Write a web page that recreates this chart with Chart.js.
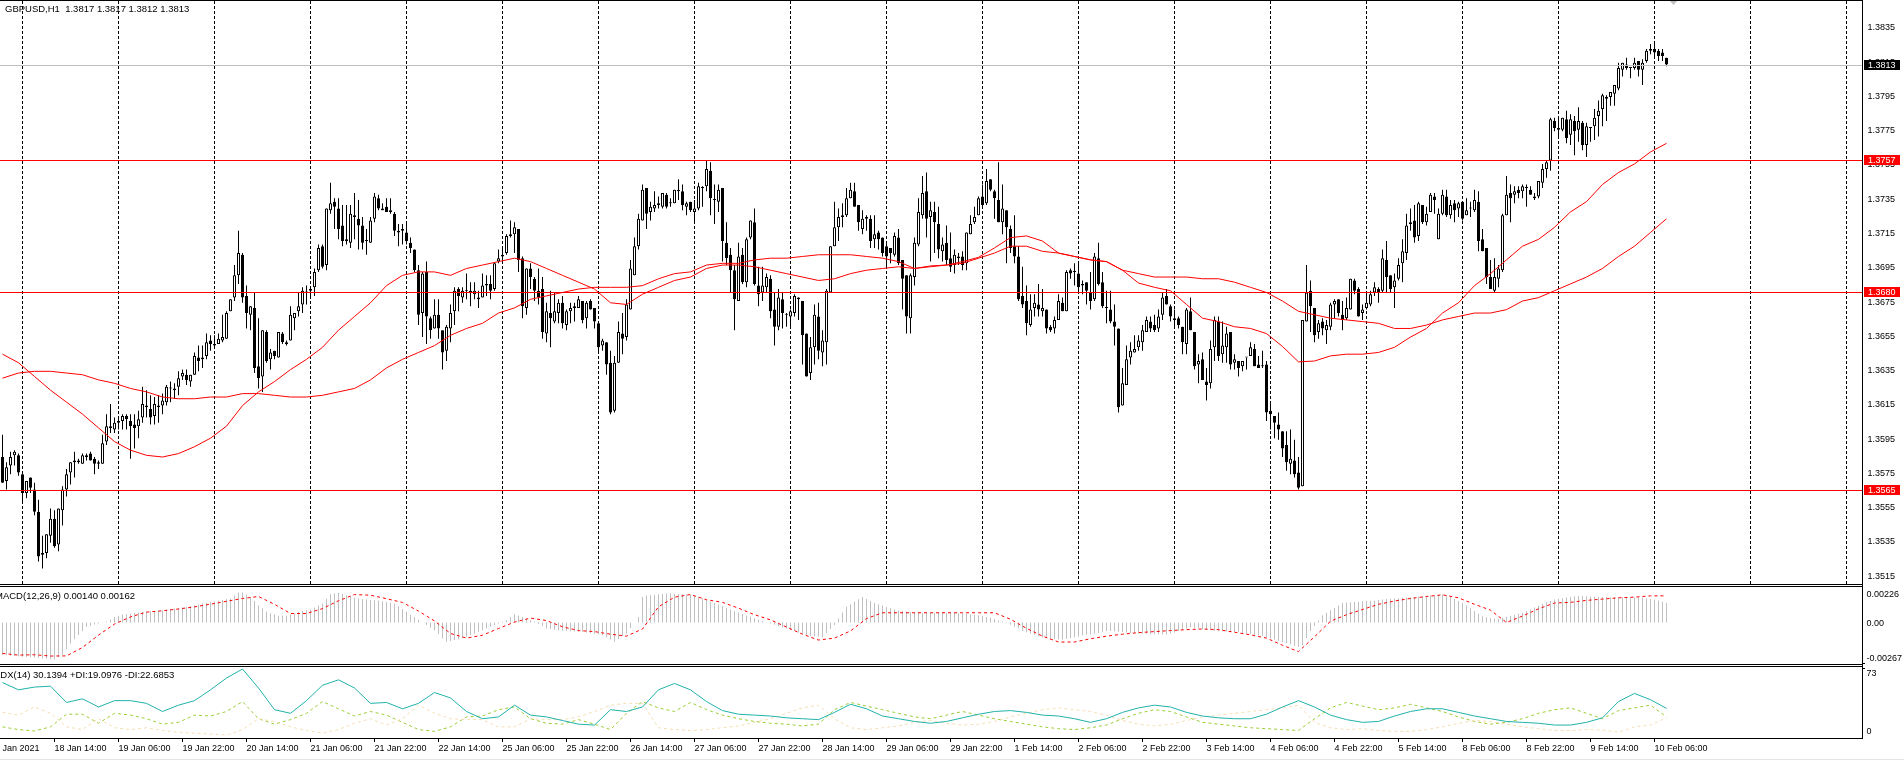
<!DOCTYPE html>
<html><head><meta charset="utf-8">
<script src="https://cdn.jsdelivr.net/npm/chart.js@4"></script>
<style>
html,body{margin:0;padding:0;background:#fff;width:1904px;height:760px;overflow:hidden}
canvas{position:absolute;left:0}
.ln{position:absolute;background:#000}
.lg{position:absolute;font:9.5px "Liberation Sans";color:#000;white-space:pre;line-height:10px}
</style></head><body>
<canvas id="main" width="1904" height="583" style="top:1px"></canvas>
<canvas id="macd" width="1904" height="77" style="top:587px"></canvas>
<canvas id="adxc" width="1904" height="93" style="top:667px"></canvas>
<div class="ln" style="left:0;top:0;width:1862px;height:1px"></div>
<div class="ln" style="left:0;top:584px;width:1862px;height:1px"></div>
<div class="ln" style="left:0;top:586px;width:1862px;height:1px"></div>
<div class="ln" style="left:0;top:664px;width:1862px;height:1px"></div>
<div class="ln" style="left:0;top:666px;width:1862px;height:1px"></div>
<div class="ln" style="left:0;top:738px;width:1863px;height:1px"></div>
<div class="ln" style="left:1862px;top:0;width:1px;height:739px"></div>
<div class="ln" style="left:1863px;top:663px;width:2px;height:1px"></div>
<div class="ln" style="left:1863px;top:668px;width:2px;height:1px"></div>
<div class="ln" style="left:0;top:759px;width:1904px;height:1px;background:#e4e4e4"></div>
<div class="lg" style="left:5px;top:4px">GBPUSD,H1  1.3817 1.3817 1.3812 1.3813</div>
<div class="lg" style="left:-5px;top:591px">MACD(12,26,9) 0.00140 0.00162</div>
<div class="lg" style="left:-6px;top:670px">ADX(14) 30.1394 +DI:19.0976 -DI:22.6853</div>
<script>
// Candle prices, in pips above 1.0000
const opens=[
3584,3570,3579,3585,3585,3574,3563,3572,3565,3552,3527,3528,3538,3548,3533,3553,3565,3575,3581,3581,
3580,3584,3586,3583,3580,3580,3593,3601,3600,3605,3605,3608,3605,3603,3602,3607,3614,3612,3608,3614,
3614,3616,3624,3623,3625,3631,3632,3628,3632,3642,3642,3643,3652,3649,3650,3652,3653,3669,3677,3690,
3702,3678,3667,3671,3637,3631,3657,3641,3646,3642,3656,3650,3652,3665,3669,3673,3680,3682,3683,3693,
3707,3696,3728,3733,3729,3719,3711,3709,3725,3723,3719,3710,3709,3723,3735,3729,3730,3728,3726,3715,
3717,3715,3709,3705,3693,3668,3692,3665,3659,3667,3658,3646,3659,3669,3682,3677,3681,3681,3679,3677,
3677,3685,3685,3682,3698,3701,3703,3714,3714,3717,3700,3671,3694,3688,3681,3682,3656,3668,3663,3668,
3674,3661,3669,3672,3671,3675,3665,3675,3671,3662,3649,3651,3639,3611,3639,3656,3654,3670,3690,3707,
3722,3741,3727,3729,3732,3730,3737,3732,3732,3739,3739,3730,3733,3727,3729,3741,3742,3751,3734,3733,
3741,3709,3702,3693,3675,3702,3686,3712,3721,3684,3680,3683,3688,3670,3660,3676,3667,3666,3668,3677,
3675,3656,3633,3648,3666,3645,3651,3680,3707,3718,3725,3725,3735,3739,3731,3717,3723,3723,3711,3715,
3712,3707,3706,3702,3712,3699,3690,3665,3689,3708,3725,3739,3724,3727,3720,3704,3709,3700,3696,3700,
3701,3697,3714,3721,3725,3736,3732,3746,3739,3734,3721,3728,3717,3707,3701,3678,3675,3661,3671,3673,
3669,3670,3660,3659,3664,3674,3669,3693,3692,3691,3684,3686,3680,3676,3700,3686,3671,3670,3663,3659,
3614,3626,3642,3645,3648,3651,3657,3663,3661,3659,3667,3678,3672,3665,3665,3660,3650,3669,3657,3638,
3641,3628,3627,3648,3663,3644,3648,3657,3639,3640,3637,3642,3643,3647,3638,3637,3638,3611,3608,3603,
3599,3591,3580,3582,3575,3567,3663,3681,3671,3657,3663,3658,3660,3673,3676,3667,3665,3670,3687,3682,
3668,3671,3673,3680,3682,3681,3699,3690,3683,3688,3697,3703,3720,3722,3713,3731,3721,3727,3736,3711,
3726,3736,3725,3732,3729,3733,3725,3729,3728,3733,3711,3706,3689,3681,3688,3693,3725,3738,3737,3740,
3739,3741,3740,3736,3736,3744,3752,3757,3780,3776,3775,3781,3772,3780,3775,3779,3766,3776,3777,3783,
3787,3794,3794,3796,3799,3810,3813,3811,3811,3815,3810,3815,3822,3822,3821,3820,3817];
const highs=[
3597,3581,3587,3588,3586,3574,3570,3572,3569,3559,3538,3539,3554,3553,3554,3567,3577,3581,3587,3583,
3586,3586,3587,3584,3582,3597,3609,3615,3607,3607,3609,3609,3609,3609,3611,3625,3623,3620,3619,3620,
3621,3626,3628,3627,3634,3635,3635,3632,3645,3649,3649,3656,3655,3655,3656,3667,3669,3676,3696,3716,
3703,3684,3672,3680,3665,3658,3658,3647,3646,3657,3657,3652,3672,3668,3680,3683,3684,3683,3694,3708,
3708,3729,3744,3735,3735,3731,3731,3731,3738,3734,3724,3717,3724,3738,3737,3732,3735,3735,3727,3720,
3720,3720,3712,3705,3696,3692,3698,3666,3676,3676,3658,3661,3673,3683,3683,3683,3691,3686,3686,3681,
3691,3690,3690,3697,3705,3706,3714,3722,3721,3717,3701,3694,3697,3689,3694,3689,3674,3681,3680,3676,
3678,3670,3674,3674,3678,3675,3675,3676,3671,3662,3653,3651,3646,3643,3663,3668,3676,3699,3712,3726,
3743,3741,3733,3739,3736,3738,3738,3735,3740,3746,3743,3733,3733,3734,3744,3742,3757,3756,3743,3743,
3741,3721,3706,3696,3709,3706,3712,3722,3729,3695,3695,3691,3690,3680,3682,3680,3668,3670,3679,3677,
3675,3656,3654,3673,3674,3658,3682,3707,3733,3729,3732,3741,3744,3744,3731,3728,3725,3725,3725,3716,
3712,3710,3706,3715,3717,3699,3690,3691,3712,3735,3748,3750,3733,3733,3730,3712,3719,3715,3705,3703,
3704,3715,3725,3730,3736,3743,3752,3746,3740,3756,3743,3728,3719,3725,3707,3695,3684,3679,3679,3685,
3682,3670,3661,3666,3679,3677,3693,3694,3697,3697,3687,3686,3692,3703,3709,3692,3681,3681,3673,3659,
3636,3649,3651,3655,3655,3661,3666,3666,3667,3670,3680,3682,3673,3670,3666,3660,3671,3677,3657,3644,
3645,3636,3652,3666,3666,3663,3660,3657,3644,3640,3640,3642,3651,3650,3643,3646,3640,3615,3608,3610,
3599,3599,3600,3594,3584,3664,3696,3687,3671,3664,3665,3664,3674,3676,3676,3675,3677,3688,3688,3683,
3673,3680,3681,3686,3683,3705,3710,3690,3691,3700,3711,3726,3729,3731,3733,3731,3730,3738,3738,3729,
3740,3740,3734,3734,3733,3733,3735,3733,3740,3739,3717,3706,3699,3700,3696,3726,3748,3743,3742,3742,
3743,3743,3742,3738,3745,3755,3757,3782,3782,3782,3782,3786,3784,3783,3788,3780,3779,3776,3787,3792,
3796,3795,3797,3801,3814,3814,3817,3811,3817,3815,3816,3822,3825,3825,3822,3822,3817];
const lows=[
3569,3565,3574,3579,3573,3558,3560,3563,3550,3523,3519,3525,3534,3531,3529,3544,3561,3568,3572,3580,
3580,3582,3582,3574,3577,3580,3591,3598,3598,3600,3600,3600,3583,3589,3595,3604,3607,3603,3603,3604,
3609,3614,3616,3618,3620,3629,3626,3625,3632,3634,3636,3641,3646,3647,3650,3651,3653,3669,3675,3685,
3674,3659,3658,3633,3624,3622,3639,3635,3641,3642,3650,3649,3652,3658,3666,3668,3673,3677,3678,3692,
3694,3693,3726,3717,3711,3707,3708,3706,3711,3705,3705,3702,3709,3721,3728,3728,3727,3726,3713,3707,
3708,3708,3703,3692,3661,3654,3650,3653,3659,3653,3635,3640,3651,3661,3669,3674,3676,3672,3676,3671,
3677,3678,3676,3681,3697,3697,3702,3712,3703,3692,3665,3667,3682,3675,3673,3653,3651,3648,3662,3662,
3659,3658,3662,3663,3671,3662,3659,3670,3659,3645,3646,3632,3609,3610,3639,3644,3652,3670,3690,3705,
3722,3717,3722,3727,3729,3729,3729,3730,3732,3734,3728,3725,3727,3721,3728,3730,3739,3725,3720,3727,
3698,3696,3680,3658,3675,3685,3683,3711,3684,3672,3675,3680,3665,3649,3658,3659,3660,3660,3666,3664,
3638,3631,3629,3638,3641,3637,3638,3680,3707,3710,3718,3724,3735,3730,3716,3714,3716,3706,3706,3705,
3701,3694,3697,3701,3696,3670,3656,3656,3684,3707,3723,3712,3698,3703,3700,3698,3696,3692,3691,3696,
3693,3693,3714,3720,3725,3729,3731,3739,3723,3721,3714,3697,3703,3697,3675,3671,3655,3660,3666,3666,
3666,3656,3657,3656,3664,3669,3669,3688,3684,3680,3679,3673,3670,3675,3684,3671,3662,3662,3649,3610,
3614,3626,3638,3645,3646,3646,3657,3657,3657,3657,3664,3673,3663,3659,3659,3644,3644,3658,3635,3627,
3629,3617,3624,3640,3640,3639,3639,3635,3635,3631,3634,3635,3643,3637,3636,3636,3605,3600,3595,3594,
3584,3576,3574,3572,3565,3567,3663,3657,3651,3653,3655,3650,3658,3665,3666,3658,3664,3670,3679,3666,
3664,3670,3672,3678,3674,3680,3680,3680,3671,3687,3686,3699,3716,3709,3710,3720,3719,3727,3726,3711,
3725,3724,3723,3721,3724,3722,3725,3724,3727,3704,3704,3685,3682,3680,3683,3692,3725,3721,3732,3735,
3735,3730,3737,3734,3735,3741,3747,3751,3774,3771,3774,3767,3766,3760,3768,3763,3759,3768,3769,3771,
3777,3780,3789,3789,3798,3806,3810,3805,3810,3806,3801,3814,3819,3818,3815,3815,3812];
const closes=[
3569,3578,3584,3587,3575,3563,3570,3566,3552,3526,3528,3539,3548,3532,3554,3565,3574,3581,3582,3582,
3585,3585,3582,3580,3581,3592,3602,3602,3604,3604,3608,3606,3602,3601,3606,3615,3613,3607,3615,3613,
3617,3625,3624,3624,3630,3633,3629,3632,3643,3640,3641,3651,3650,3650,3653,3654,3668,3676,3690,3703,
3677,3668,3672,3636,3630,3658,3640,3645,3643,3657,3651,3651,3667,3668,3672,3681,3680,3681,3692,3706,
3695,3729,3732,3730,3717,3710,3710,3726,3724,3719,3709,3710,3722,3736,3729,3728,3727,3727,3716,3716,
3716,3710,3706,3693,3667,3691,3666,3658,3667,3659,3645,3660,3668,3681,3678,3681,3681,3680,3681,3676,
3684,3684,3681,3697,3700,3702,3713,3713,3718,3699,3672,3694,3689,3681,3677,3657,3669,3665,3669,3674,
3662,3669,3671,3671,3676,3664,3674,3670,3663,3648,3652,3638,3610,3639,3657,3653,3673,3694,3707,3723,
3740,3726,3730,3731,3731,3738,3730,3732,3740,3740,3731,3732,3728,3729,3742,3741,3752,3735,3734,3740,
3710,3700,3693,3676,3701,3686,3711,3722,3685,3679,3684,3689,3669,3660,3677,3668,3667,3669,3678,3676,
3655,3631,3648,3667,3646,3652,3681,3707,3718,3724,3724,3735,3740,3730,3721,3723,3724,3710,3714,3711,
3703,3701,3703,3713,3697,3688,3666,3690,3709,3727,3738,3723,3728,3721,3705,3708,3699,3695,3702,3701,
3696,3715,3720,3724,3735,3731,3745,3740,3735,3721,3729,3718,3706,3701,3676,3673,3662,3670,3674,3670,
3671,3659,3658,3664,3675,3669,3692,3691,3692,3683,3685,3681,3675,3701,3685,3672,3671,3663,3660,3613,
3627,3641,3646,3647,3652,3658,3664,3659,3658,3666,3677,3673,3666,3664,3661,3651,3670,3658,3637,3640,
3629,3626,3647,3664,3643,3649,3656,3638,3641,3636,3640,3642,3648,3637,3636,3637,3610,3609,3604,3600,
3589,3581,3583,3574,3566,3664,3680,3672,3655,3662,3659,3661,3673,3675,3668,3664,3671,3688,3681,3666,
3670,3674,3679,3683,3680,3700,3689,3682,3687,3696,3704,3719,3721,3712,3732,3721,3726,3737,3734,3726,
3737,3725,3731,3728,3732,3723,3728,3729,3734,3710,3704,3689,3682,3689,3694,3725,3737,3735,3739,3738,
3742,3741,3737,3735,3745,3752,3756,3781,3776,3775,3782,3770,3781,3774,3780,3766,3777,3776,3782,3786,
3795,3793,3797,3801,3811,3814,3811,3811,3814,3810,3814,3821,3821,3820,3818,3818,3813];
// Moving averages and indicator lines, read once every 4 bars
const readEvery=4;
const maFast=[3644,3639,3631,3623,3616,3609,3601,3593,3588,3585,3584,3586,3590,3595,3602,3614,3622,3628,3635,3641,
3648,3658,3666,3674,3684,3690,3692,3692,3690,3694,3696,3698,3700,3698,3694,3690,3686,3682,3674,3673,3679,3683,3687,
3689,3694,3696,3696,3695,3693,3691,3689,3687,3688,3691,3693,3694,3695,3694,3695.5,3696,3698,3700.5,3706,3712,
3713,3710,3703,3701,3699,3698,3693,3685.5,3683,3681,3673,3665,3663,3660,3659,3656,3648.5,3639.5,3640,3643,
3644,3644,3645,3648,3654,3659,3668,3674,3684,3691,3699,3707,3711,3718,3727,3733,3743,3750,3755,3762,3767];
const maSlow=[3630,3633,3634,3634,3633,3632,3629,3627,3624,3622,3619,3618,3618,3619,3619,3621,3621,3620,3619,3619,
3620,3622,3624,3629,3636,3641,3645,3649,3655,3659,3662,3668,3671,3676,3678,3680,3682,3683,3683,3683,3684,3688,3691,
3692,3696,3697,3697,3699,3700,3700,3701,3702,3702,3702,3701,3700,3698,3694,3695,3696,3697,3700,3703,3707,
3707,3704,3703,3701,3699,3698,3693,3691,3689,3689,3689,3688,3688,3686,3683,3680,3675,3669,3667,3665,
3664,3663,3662,3659,3659,3661,3664,3666,3668,3668,3670,3675,3677,3681,3685,3689,3694,3701,3707,3715,3723];
// MACD histogram for every bar, in units of 0.00001
const macdHist=[
-250,-252,-255,-258,-260,-263,-265,-268,-270,-273,-276,-279,-282,-284,-268,-250,-205,-161,-129,-97,
-65,-33,-25,-16,-8,-2,5,24,43,52,61,65,69,73,77,80,83,86,89,92,
95,99,103,107,112,116,120,126,133,140,146,151,157,162,168,173,179,184,207,230,
230,214,197,165,133,108,82,72,61,51,51,51,61,72,82,88,94,100,115,131,
146,182,218,223,228,219,210,201,193,184,180,177,174,172,170,164,158,152,146,125,
103,82,62,43,22,0,-20,-40,-59,-91,-123,-148,-142,-135,-129,-123,-110,-97,-85,-72,
-59,-46,-33,-20,-7,5,18,41,64,54,43,30,18,5,-12,-29,-46,-50,-55,-59,
-64,-66,-67,-69,-71,-72,-77,-82,-87,-92,-97,-114,-131,-148,-127,-106,-85,-42,0,43,
196,205,210,214,218,222,224,223,221,220,218,216,215,205,195,185,172,160,150,138,
125,113,100,88,76,65,54,44,32,21,10,1,-8,-18,-28,-38,-47,-57,-66,-76,
-85,-94,-103,-106,-109,-112,-80,-50,-19,30,76,121,140,160,178,196,180,165,150,140,
130,120,110,100,93,88,84,80,78,76,75,75,75,75,75,75,75,75,75,72,
69,66,63,60,56,50,42,34,26,16,7,-5,-18,-32,-45,-65,-75,-85,-95,-105,
-115,-121,-125,-128,-130,-130,-125,-119,-113,-107,-100,-95,-90,-85,-80,-72,-68,-65,-68,-71,
-74,-77,-80,-83,-84,-86,-87,-89,-90,-91,-92,-92,-85,-76,-66,-56,-46,-37,-42,-46,
-51,-56,-60,-65,-67,-68,-70,-71,-73,-75,-80,-84,-89,-94,-98,-103,-113,-122,-131,-141,
-150,-159,-168,-178,-187,-175,-120,-65,-25,15,56,75,94,112,131,150,153,155,158,160,
163,165,168,170,173,177,180,182,185,187,190,192,195,197,200,202,205,207,210,212,
215,210,196,181,165,150,131,110,89,68,48,40,34,28,28,36,44,52,60,67,
75,88,102,115,129,142,155,165,177,182,187,192,197,201,205,203,202,200,198,196,
196,196,195,195,194,194,193,193,192,192,190,185,180,175,170,160,150];
const macdSignal=[-238,-251,-248,-258,-257,-192,-97,-12,43,80,
90,104,120,141,163,185,200,140,69,69,
107,167,215,210,183,154,88,12,-84,-120,
-98,-46,3,34,15,-33,-62,-70,-90,-105,
-50,121,195,215,175,155,110,60,20,-35,
-90,-135,-120,-65,30,75,75,75,75,75,
75,75,75,25,-45,-105,-150,-150,-125,-105,
-90,-78,-70,-62,-55,-50,-55,-75,-95,-120,
-175,-224,-110,10,60,100,140,165,185,200,
213,190,140,95,0,50,105,150,155,170,
180,190,195,205,205];
const adxLine=[58,50,53,54,36,40,31,38,38,35,26,33,38,50,63,73,52,28,24,38,
55,61,52,35,36,29,35,47,41,26,18,20,33,22,20,16,12,11,28,26,31,
50,57,50,37,27,23,22,21,19,18,17,25,34,29,21,18,15,13,15,19,
23,26,27,25,22,21,18,14,18,25,30,33,31,25,21,19,18,18,23,31,
38,31,22,17,14,15,21,26,29,29,25,21,18,15,14,13,11,11,14,19,37,46,39,29.5];
const plusDI=[9,6,4.5,9,23,23,13,24,22,18,12,14,22,21,26,37,18,12,17,24,
37,29,21,26,22,14,6,4,9,20,21,28,31,18,13,12,17,12,6,24,37,
30,26,36,28,22,18,15,13,12,10,12,28,36,32,28,24,20,18,22,26,
22,18,15,12,9,7,6,8,11,18,24,28,26,20,14,12,10,8,7,6,
5,18,30,36,32,28,30,34,30,26,20,15,12,14,18,24,28,30,24,18,27,30,33,20];
const minusDI=[25,22,31,24,9,6,18,8,6,8,5,3,2,1,0,6,18,15,9,5,
2,6,13,18,11,18,33,24,18,17,17,9,9,18,17,17,20,26,33,35,35,
8,6,5,6,8,10,14,18,24,30,33,18,8,6,8,10,14,16,13,11,
12,15,20,24,28,30,28,26,22,16,12,10,12,16,20,22,24,26,28,30,
33,14,8,6,7,5,4,4,6,9,13,16,15,12,9,7,5,5,6,5.5,3,9,11,19];
// Axis text
const dateLabels=["18 Jan 14:00","19 Jan 06:00","19 Jan 22:00","20 Jan 14:00","21 Jan 06:00","21 Jan 22:00","22 Jan 14:00","25 Jan 06:00","25 Jan 22:00","26 Jan 14:00","27 Jan 06:00","27 Jan 22:00","28 Jan 14:00","29 Jan 06:00","29 Jan 22:00","1 Feb 14:00","2 Feb 06:00","2 Feb 22:00","3 Feb 14:00","4 Feb 06:00","4 Feb 22:00","5 Feb 14:00","8 Feb 06:00","8 Feb 22:00","9 Feb 14:00","10 Feb 06:00"];
const firstLabel="Jan 2021";
const priceTicks=[1.3515,1.3535,1.3555,1.3575,1.3595,1.3615,1.3635,1.3655,1.3675,1.3695,1.3715,1.3735,1.3755,1.3775,1.3795,1.3815,1.3835];
const levels=[1.3757,1.3680,1.3565];
const lastPrice=1.3813;
const macdTicks=[0.00226,0,-0.00267];
const macdTickText=["0.00226","0.00","-0.00267"];
const adxTicks=[73,0];

Chart.defaults.font.family='"Liberation Sans"';
Chart.defaults.font.size=9;
Chart.defaults.color='#000';
Chart.defaults.animation=false;
Chart.defaults.devicePixelRatio=1;

const SLOTS=465, AXISW=43.5;
const labels=Array(SLOTS).fill("");
labels[0]=firstLabel;
dateLabels.forEach((t,k)=>{labels[13+16*k]=t;});
const toPrice=p=>1+p/10000;
const sparse=(a,f)=>labels.map((_,i)=>(i%readEvery===0&&i/readEvery<a.length)?f(a[i/readEvery]):null);
const full=(a,f)=>labels.map((_,i)=>i<a.length?f(a[i]):null);

const fitY=s=>{s.width=AXISW;s.paddingTop=0;s.paddingBottom=0;};
const xHidden={display:false,type:'category',offset:true,grid:{display:false}};
const baseOpts={responsive:false,maintainAspectRatio:false,layout:{padding:{left:0.5,top:0,bottom:0,right:0}},
  plugins:{legend:{display:false},title:{display:false},tooltip:{enabled:false}},events:[]};
const yCommon={position:'right',border:{display:false},grid:{display:false,drawTicks:false}};

const lineSet=(data,color,extra)=>Object.assign({type:'line',data,borderColor:color,borderWidth:1,pointRadius:0,tension:0,spanGaps:true,fill:false,order:1},extra||{});
const barSet=(data,extra)=>Object.assign({type:'bar',data,grouped:false,inflateAmount:0,borderSkipped:false},extra);

// main pane
const PXU=17140, Y1835=26.8;
const mainPlugin={id:'mainDecor',
  beforeDatasetsDraw(c){
    const ctx=c.ctx,x=c.scales.x,a=c.chartArea;
    ctx.save();ctx.strokeStyle='#000';ctx.lineWidth=1;ctx.setLineDash([3,2]);
    for(let i=5;i<SLOTS;i+=24){
      const px=Math.floor(x.getPixelForValue(i))+0.5;
      ctx.beginPath();ctx.moveTo(px,a.top);ctx.lineTo(px,a.bottom);ctx.stroke();
    }
    ctx.restore();
  },
  afterDatasetsDraw(c){
    const ctx=c.ctx,y=c.scales.y;
    ctx.save();
    ctx.fillStyle='#c0c0c0';ctx.fillRect(0,Math.round(y.getPixelForValue(lastPrice)),1862,1);
    ctx.fillStyle='#ff0000';
    levels.forEach(l=>ctx.fillRect(0,Math.round(y.getPixelForValue(l)),1862,1));
    ctx.restore();
  },
  afterDraw(c){
    const ctx=c.ctx,y=c.scales.y;
    ctx.save();ctx.font='9px "Liberation Sans"';ctx.textBaseline='middle';
    const tag=(v,bg)=>{const py=Math.round(y.getPixelForValue(v));
      ctx.fillStyle=bg;ctx.fillRect(1864,py-5,36,10);
      ctx.fillStyle='#fff';ctx.textAlign='left';ctx.fillText(v.toFixed(4),1868,py+0.5);};
    levels.forEach(l=>tag(l,'#ff0000'));
    tag(lastPrice,'#000');
    ctx.fillStyle='#c0c0c0';ctx.beginPath();ctx.moveTo(1669,-1);ctx.lineTo(1678,-1);ctx.lineTo(1673.5,4);ctx.closePath();ctx.fill();
    ctx.restore();
  }};
new Chart(document.getElementById('main'),{
  data:{labels,datasets:[
    lineSet(sparse(maFast,toPrice),'#ff0000',{label:'MA fast'}),
    lineSet(sparse(maSlow,toPrice),'#ff0000',{label:'MA slow'}),
    barSet(opens.map((o,i)=>[toPrice(o),toPrice(closes[i])]),{label:'GBPUSD body',order:2,barThickness:3,minBarLength:1,borderWidth:1,borderColor:'#000',
      backgroundColor:opens.map((o,i)=>closes[i]>=o?'#fff':'#000')}),
    barSet(lows.map((l,i)=>[toPrice(l),toPrice(highs[i])]),{label:'GBPUSD wick',order:3,barThickness:1,borderWidth:0,backgroundColor:'#000'})
  ]},
  options:Object.assign({},baseOpts,{scales:{x:xHidden,
    y:Object.assign({},yCommon,{min:1.3835-(584-Y1835)/PXU,max:1.3835+(Y1835-1)/PXU,afterFit:fitY,
      afterBuildTicks(s){s.ticks=priceTicks.map(v=>({value:v}));},
      ticks:{padding:7,labelOffset:1,autoSkip:false,callback:v=>Number(v).toFixed(4)}})}}),
  plugins:[mainPlugin]});

// MACD pane
const MPU=13000,MZ=622.5;
new Chart(document.getElementById('macd'),{
  data:{labels,datasets:[
    lineSet(sparse(macdSignal,v=>v/1e5),'#ff0000',{label:'Signal',borderDash:[3,3]}),
    barSet(full(macdHist,v=>v/1e5),{label:'MACD',order:2,barThickness:1,borderWidth:0,backgroundColor:'#c0c0c0'})
  ]},
  options:Object.assign({},baseOpts,{scales:{x:xHidden,
    y:Object.assign({},yCommon,{min:-(664-MZ)/MPU,max:(MZ-587)/MPU,afterFit:fitY,
      afterBuildTicks(s){s.ticks=macdTicks.map(v=>({value:v}));},
      ticks:{padding:6,labelOffset:1,autoSkip:false,callback:(v,i)=>macdTickText[i]}})}})});

// ADX pane
const APU=0.904,AZ=735;
const adxPlugin={id:'adxText',afterDraw(c){
  const ctx=c.ctx,y=c.scales.y;
  ctx.save();ctx.font='9px "Liberation Sans"';ctx.fillStyle='#000';ctx.textBaseline='middle';ctx.textAlign='left';
  ctx.fillText(String(adxTicks[0]),1866.5,y.getPixelForValue(adxTicks[0])+5);
  ctx.fillText(String(adxTicks[1]),1866.5,y.getPixelForValue(adxTicks[1])-3.5);
  ctx.restore();
}};
new Chart(document.getElementById('adxc'),{
  data:{labels,datasets:[
    lineSet(sparse(minusDI,v=>v),'#F5DEB3',{label:'-DI',borderDash:[3,3]}),
    lineSet(sparse(plusDI,v=>v),'#9ACD32',{label:'+DI',borderDash:[3,3]}),
    lineSet(sparse(adxLine,v=>v),'#20B2AA',{label:'ADX',order:0})
  ]},
  options:Object.assign({},baseOpts,{scales:{
    x:{type:'category',offset:true,border:{display:false},
      grid:{offset:false,drawOnChartArea:false,tickLength:4,tickColor:c=>c.index===0?'rgba(0,0,0,0)':'#000'},
      afterBuildTicks(s){s.ticks=labels.map((t,i)=>({value:i,t})).filter(o=>o.t).map(o=>({value:o.value}));},
      afterFit(s){s.height=22;s.paddingLeft=0;s.paddingRight=0;},
      ticks:{autoSkip:false,maxRotation:0,minRotation:0,align:'start',padding:1,
        callback(v){return this.getLabelForValue(v);}}},
    y:Object.assign({},yCommon,{min:-(738-AZ)/APU,max:(AZ-667)/APU,afterFit:fitY,
      afterBuildTicks(s){s.ticks=adxTicks.map(v=>({value:v}));},
      ticks:{display:false}})}}),
  plugins:[adxPlugin]});
</script>
</body></html>
